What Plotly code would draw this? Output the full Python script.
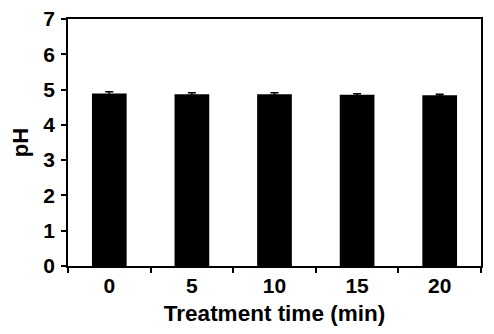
import plotly.graph_objects as go

categories = ["0", "5", "10", "15", "20"]
ph_values = [4.89, 4.87, 4.87, 4.85, 4.84]
ph_errors = [0.05, 0.04, 0.04, 0.03, 0.03]
y_ticks = [0, 1, 2, 3, 4, 5, 6, 7]

fig = go.Figure(go.Bar(
    x=categories, y=ph_values,
    marker=dict(color="black", line=dict(width=0)),
    width=0.42,
    error_y=dict(type="data", array=ph_errors, visible=True, color="black", thickness=1.5, width=4),
))

FAM = "Liberation Sans, Arial, sans-serif"
# page body has an 8px default margin; size the figure so it fits the 494x334 window
fig.update_layout(
    width=478, height=318,
    margin=dict(l=60, r=5, t=11, b=60, autoexpand=False),
    paper_bgcolor="white", plot_bgcolor="white",
    showlegend=False,
    font=dict(family=FAM, size=21, color="black"),
)
fig.update_xaxes(
    automargin=False,
    showline=True, linecolor="black", linewidth=1.5, mirror=True,
    ticks="outside", ticklen=5, tickwidth=1.5, tickcolor="black",
    tickson="boundaries", showgrid=False,
    ticklabeloverflow="allow",
    tickfont=dict(family=FAM, size=21, color="black", weight="bold"),
    title=dict(text="<b>Treatment time (min)</b>", standoff=13,
               font=dict(family=FAM, size=22.5, color="black")),
)
fig.update_yaxes(
    automargin=False,
    range=[0, 7], tickvals=y_ticks,
    showline=True, linecolor="black", linewidth=1.5, mirror=True,
    ticks="outside", ticklen=5, tickwidth=1.5, tickcolor="black",
    ticklabelstandoff=2,
    ticklabeloverflow="allow",
    showgrid=False, zeroline=False,
    tickfont=dict(family=FAM, size=21, color="black", weight="bold"),
    title=dict(text="<b>pH</b>", standoff=14,
               font=dict(family=FAM, size=22, color="black")),
)
fig.write_html("out.html")
